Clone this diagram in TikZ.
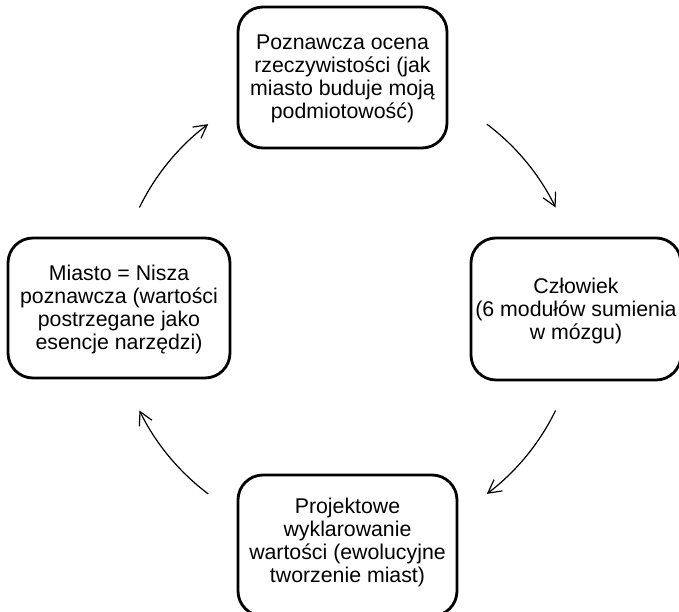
\documentclass[tikz,border=0pt]{standalone}
\usepackage{fontspec}
\setmainfont{Liberation Sans}
\usetikzlibrary{arrows.meta,calc}
\begin{document}
\begin{tikzpicture}[x=1pt,y=1pt,
  box/.style={draw, line width=2.8pt, rounded corners=25pt, inner sep=0pt},
  txt/.style={align=center, font=\fontsize{21.3pt}{23pt}\selectfont, inner sep=0pt},
  cyc/.style={line width=1.2pt, -{Straight Barb[length=13pt,width=14pt]}}]
\useasboundingbox (0,0) rectangle (679,611);
% boxes
\node[box, minimum width=209pt, minimum height=141pt] (top) at (342.5,533.5) {};
\node[box, minimum width=210pt, minimum height=142pt] (right) at (576,302) {};
\node[box, minimum width=222pt, minimum height=140pt] (left) at (119,303) {};
\node[box, minimum width=219pt, minimum height=141pt] (bottom) at (347.5,65.5) {};
% texts
\node[txt] (topT) at (342.5,532) {Poznawcza ocena\\rzeczywistości (jak\\miasto buduje moją\\podmiotowość)};
\node[txt] (rightT) at (576,300) {Człowiek\\(6 modułów sumienia\\w mózgu)};
\node[txt] (leftT) at (119,301.5) {Miasto = Nisza\\poznawcza (wartości\\postrzegane jako\\esencje narzędzi)};
\node[txt] (bottomT) at (347.5,69) {Projektowe\\wyklarowanie\\wartości (ewolucyjne\\tworzenie miast)};
% cycle arrows
\coordinate (c) at (347.5,302);
\coordinate (a1) at ($(c)+(154:231.5pt)$);
\coordinate (a2) at ($(c)+(53:231.5pt)$);
\coordinate (a3) at ($(c)+(-26:231.5pt)$);
\coordinate (a4) at ($(c)+(-127:231.5pt)$);
\draw[cyc] (a1) arc[start angle=154, end angle=127, radius=231.5pt];
\draw[cyc] (a2) arc[start angle=53, end angle=26, radius=231.5pt];
\draw[cyc] (a3) arc[start angle=-26, end angle=-53, radius=231.5pt];
\draw[cyc] (a4) arc[start angle=-127, end angle=-154, radius=231.5pt];
\end{tikzpicture}
\end{document}
